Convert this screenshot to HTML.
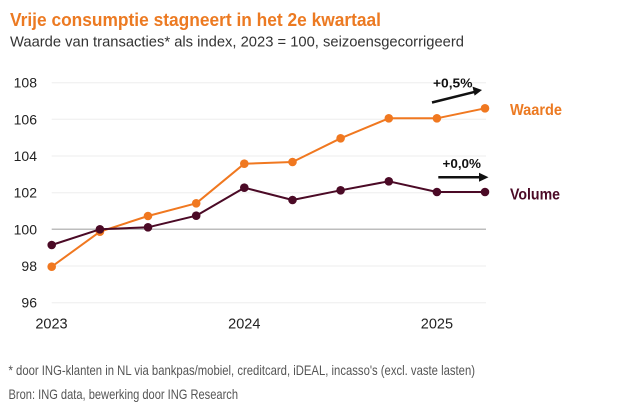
<!DOCTYPE html>
<html><head><meta charset="utf-8"><style>
html,body{margin:0;padding:0;background:#fff;}
svg{display:block;}
text{font-family:"Liberation Sans",sans-serif;}
</style></head><body>
<svg width="619" height="412" viewBox="0 0 619 412" xmlns="http://www.w3.org/2000/svg">
<rect width="619" height="412" fill="#fff"/>
<text x="10" y="26" font-size="18" font-weight="bold" fill="#EC7A22" textLength="371" lengthAdjust="spacingAndGlyphs">Vrije consumptie stagneert in het 2e kwartaal</text>
<text x="10" y="46.5" font-size="15" fill="#333" textLength="454" lengthAdjust="spacingAndGlyphs">Waarde van transacties* als index, 2023 = 100, seizoensgecorrigeerd</text>

<g stroke="#eeeeee" stroke-width="1">
<line x1="51.7" y1="82.7" x2="486" y2="82.7"/>
<line x1="51.7" y1="119.3" x2="486" y2="119.3"/>
<line x1="51.7" y1="156" x2="486" y2="156"/>
<line x1="51.7" y1="192.7" x2="486" y2="192.7"/>
<line x1="51.7" y1="266" x2="486" y2="266"/>
<line x1="51.7" y1="302.7" x2="486" y2="302.7"/>
</g>
<line x1="51.7" y1="229.3" x2="486" y2="229.3" stroke="#bdbdbd" stroke-width="1.5"/>

<g font-size="14" fill="#222" text-anchor="end">
<text x="37" y="87.7">108</text>
<text x="37" y="124.3">106</text>
<text x="37" y="161">104</text>
<text x="37" y="197.7">102</text>
<text x="37" y="234.3">100</text>
<text x="37" y="271">98</text>
<text x="37" y="307.7">96</text>
</g>
<g font-size="14.5" fill="#222" text-anchor="middle">
<text x="51.5" y="328.5">2023</text>
<text x="244.3" y="328.5">2024</text>
<text x="436.9" y="328.5">2025</text>
</g>

<polyline fill="none" stroke="#F07820" stroke-width="2" stroke-linejoin="round"
points="51.7,266.7 99.9,231.7 148,216 196.2,203.3 244.3,163.7 292.5,162 340.6,138.3 388.8,118.3 436.9,118.3 485,108.3"/>
<g fill="#F07820">
<circle cx="51.7" cy="266.7" r="4.3"/><circle cx="99.9" cy="231.7" r="4.3"/><circle cx="148" cy="216" r="4.3"/><circle cx="196.2" cy="203.3" r="4.3"/><circle cx="244.3" cy="163.7" r="4.3"/><circle cx="292.5" cy="162" r="4.3"/><circle cx="340.6" cy="138.3" r="4.3"/><circle cx="388.8" cy="118.3" r="4.3"/><circle cx="436.9" cy="118.3" r="4.3"/><circle cx="485" cy="108.3" r="4.3"/>
</g>

<polyline fill="none" stroke="#4B0A26" stroke-width="2" stroke-linejoin="round"
points="51.7,245 99.9,229.3 148,227.3 196.2,215.7 244.3,187.7 292.5,200 340.6,190.3 388.8,181.3 436.9,192 485,192"/>
<g fill="#4B0A26">
<circle cx="51.7" cy="245" r="4.3"/><circle cx="99.9" cy="229.3" r="4.3"/><circle cx="148" cy="227.3" r="4.3"/><circle cx="196.2" cy="215.7" r="4.3"/><circle cx="244.3" cy="187.7" r="4.3"/><circle cx="292.5" cy="200" r="4.3"/><circle cx="340.6" cy="190.3" r="4.3"/><circle cx="388.8" cy="181.3" r="4.3"/><circle cx="436.9" cy="192" r="4.3"/><circle cx="485" cy="192" r="4.3"/>
</g>

<text x="510" y="114.8" font-size="15.5" font-weight="bold" fill="#EC7A22" textLength="52" lengthAdjust="spacingAndGlyphs">Waarde</text>
<text x="510" y="199.5" font-size="15.5" font-weight="bold" fill="#4B0A26" textLength="50" lengthAdjust="spacingAndGlyphs">Volume</text>

<text x="433" y="87.3" font-size="13" font-weight="bold" fill="#111" textLength="39.5" lengthAdjust="spacingAndGlyphs">+0,5%</text>
<text x="442.5" y="168" font-size="13" font-weight="bold" fill="#111" textLength="38.5" lengthAdjust="spacingAndGlyphs">+0,0%</text>

<line x1="432" y1="102.5" x2="475" y2="91.8" stroke="#111" stroke-width="2.5"/>
<polygon points="482,90 472.5,86.6 474.6,95.6" fill="#111"/>
<line x1="438.3" y1="177.3" x2="480" y2="177.3" stroke="#111" stroke-width="2.5"/>
<polygon points="488.5,177.3 479,172.8 479,181.8" fill="#111"/>

<text x="8.5" y="375" font-size="14" fill="#555" textLength="466.5" lengthAdjust="spacingAndGlyphs">* door ING-klanten in NL via bankpas/mobiel, creditcard, iDEAL, incasso's (excl. vaste lasten)</text>
<text x="8.5" y="399" font-size="14" fill="#555" textLength="229.5" lengthAdjust="spacingAndGlyphs">Bron: ING data, bewerking door ING Research</text>
</svg>
</body></html>
